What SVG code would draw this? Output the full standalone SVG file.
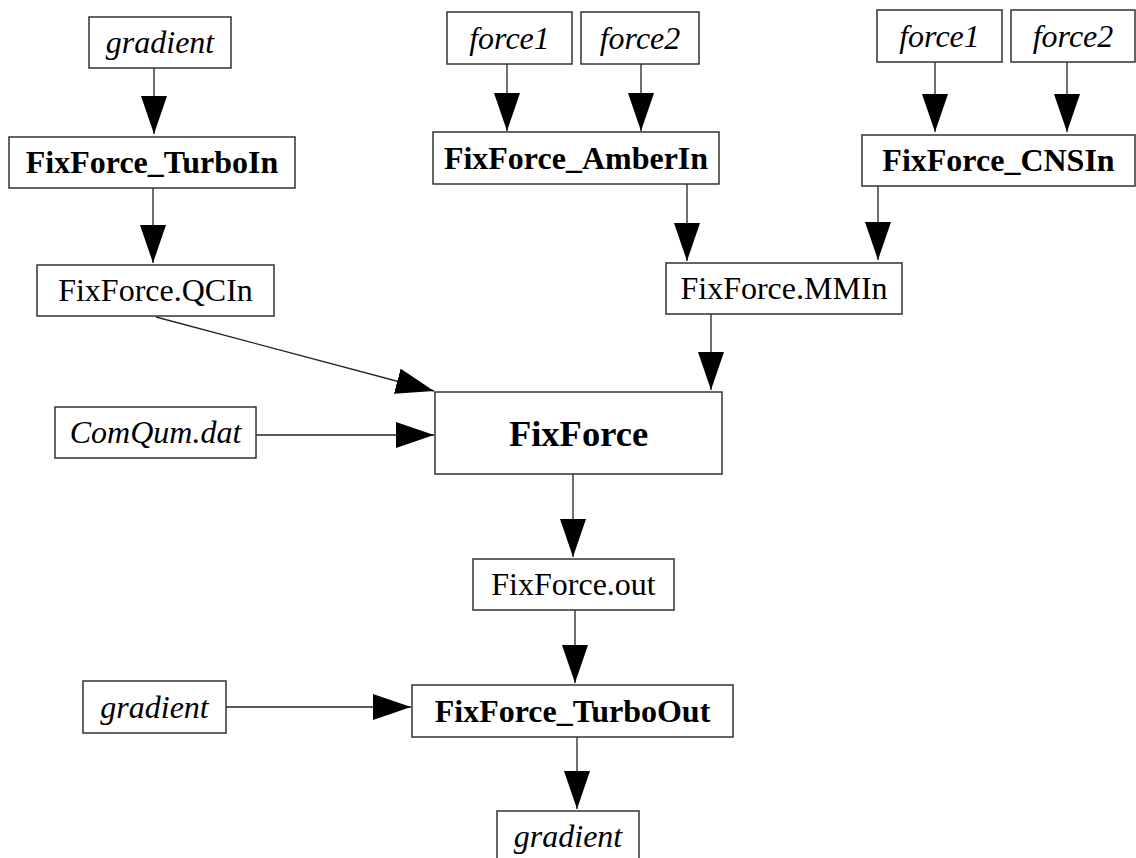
<svg xmlns="http://www.w3.org/2000/svg" width="1136" height="858" viewBox="0 0 1136 858">
<style>
.n rect{fill:#fff;stroke:#333;stroke-width:1.5}
text{font-family:"Liberation Serif","Times New Roman",serif;font-size:32px;fill:#000;text-anchor:middle}
.b{font-weight:bold}
.i{font-style:italic}
.big{font-size:36.5px}
#edges line{stroke:#222;stroke-width:1.3;marker-end:url(#ah)}
</style>
<defs>
<marker id="ah" markerUnits="userSpaceOnUse" markerWidth="40" markerHeight="28" refX="38" refY="13" orient="auto">
<path d="M0,0 L38,13 L0,26 z" fill="#000"/>
</marker>
</defs>
<rect width="1136" height="858" style="fill:#fff;stroke:none"/>
<g id="edges">
<line x1="154" y1="68" x2="154" y2="134"/>
<line x1="153" y1="188" x2="153" y2="263"/>
<line x1="507" y1="64" x2="507" y2="131"/>
<line x1="641" y1="64" x2="641" y2="131"/>
<line x1="935" y1="62" x2="935" y2="132"/>
<line x1="1067" y1="62" x2="1067" y2="132"/>
<line x1="687" y1="184" x2="687" y2="261"/>
<line x1="878" y1="186" x2="878" y2="260"/>
<line x1="156" y1="317" x2="434" y2="391"/>
<line x1="256" y1="435" x2="434" y2="435"/>
<line x1="711" y1="314" x2="711" y2="390"/>
<line x1="573" y1="474" x2="573" y2="557"/>
<line x1="575" y1="610" x2="575" y2="683"/>
<line x1="226" y1="707" x2="411" y2="707"/>
<line x1="577" y1="737" x2="577" y2="809"/>
</g>
<g id="gradient_in" class="n"><rect x="89" y="17" width="142" height="51"/><text class="i" x="160" y="53">gradient</text></g>
<g id="turboin" class="n"><rect x="9" y="137" width="286" height="51"/><text class="b" x="152" y="173">FixForce_TurboIn</text></g>
<g id="qcin" class="n"><rect x="37" y="265" width="237" height="51"/><text x="155.5" y="301">FixForce.QCIn</text></g>
<g id="force1_a" class="n"><rect x="447" y="12" width="125" height="52"/><text class="i" x="509.5" y="49">force1</text></g>
<g id="force2_a" class="n"><rect x="581" y="12" width="118" height="52"/><text class="i" x="640" y="49">force2</text></g>
<g id="amberin" class="n"><rect x="433" y="132" width="286" height="52"/><text class="b" x="576" y="169">FixForce_AmberIn</text></g>
<g id="force1_b" class="n"><rect x="877" y="10" width="125" height="52"/><text class="i" x="939.5" y="47">force1</text></g>
<g id="force2_b" class="n"><rect x="1011" y="10" width="124" height="52"/><text class="i" x="1073" y="47">force2</text></g>
<g id="cnsin" class="n"><rect x="862" y="135" width="273" height="51"/><text class="b" x="998.5" y="171">FixForce_CNSIn</text></g>
<g id="mmin" class="n"><rect x="666" y="263" width="236" height="51"/><text x="784" y="299">FixForce.MMIn</text></g>
<g id="comqum" class="n"><rect x="55" y="407" width="201" height="51"/><text class="i" x="155.5" y="443">ComQum.dat</text></g>
<g id="fixforce" class="n"><rect x="435" y="392" width="287" height="82"/><text class="b big" x="578.5" y="446">FixForce</text></g>
<g id="out" class="n"><rect x="473" y="559" width="201" height="51"/><text x="573.5" y="595">FixForce.out</text></g>
<g id="gradient_side" class="n"><rect x="83" y="681" width="143" height="52"/><text class="i" x="154.5" y="718">gradient</text></g>
<g id="turboout" class="n"><rect x="412" y="685" width="321" height="52"/><text class="b" x="572.5" y="722">FixForce_TurboOut</text></g>
<g id="gradient_out" class="n"><rect x="497" y="811" width="142" height="52"/><text class="i" x="568" y="847">gradient</text></g>
</svg>
